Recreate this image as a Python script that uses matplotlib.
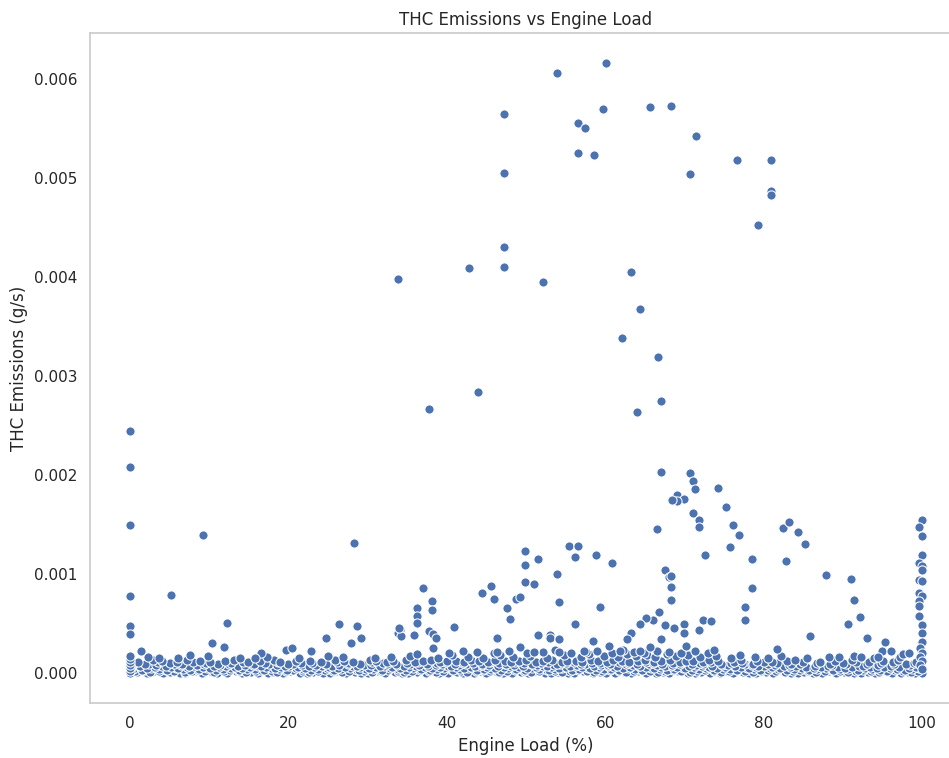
import matplotlib
matplotlib.use("Agg")
import matplotlib.pyplot as plt
import seaborn as sns

# ---------------- data ----------------
# Sparse points above the dense band: (engine load %, THC g/s)
upper_points = [
    (53.9, 0.00606), (60.1, 0.00616), (47.2, 0.00565), (59.7, 0.00570), (56.6, 0.00556),
    (57.4, 0.00551), (65.6, 0.00572), (68.3, 0.00573), (71.5, 0.00543), (56.6, 0.00525),
    (58.6, 0.00523), (47.2, 0.00505), (70.7, 0.00504), (76.6, 0.00518), (80.9, 0.00518),
    (80.9, 0.00487), (80.9, 0.00483), (79.3, 0.00453), (47.2, 0.00430), (42.8, 0.00409),
    (47.2, 0.00410), (33.9, 0.00398), (52.2, 0.00395), (63.3, 0.00405), (64.4, 0.00368),
    (62.1, 0.00338), (66.7, 0.00319), (44.0, 0.00284), (37.8, 0.00267), (67.1, 0.00275),
    (64.0, 0.00263),
]

left_points = [
    (0.0, 0.00244), (0.0, 0.00208), (0.0, 0.00149), (9.2, 0.00139), (0.0, 0.00077),
    (5.2, 0.00078), (0.0, 0.00047), (0.0, 0.00039), (28.3, 0.00131), (12.3, 0.00050),
    (10.4, 0.00030), (11.9, 0.00026), (1.4, 0.00022), (3.7, 0.00015), (7.6, 0.00018),
    (26.4, 0.00049), (28.7, 0.00047), (29.2, 0.00035), (27.9, 0.00030), (24.8, 0.00035),
    (22.9, 0.00022), (19.7, 0.00023), (20.5, 0.00025), (16.6, 0.00020), (15.8, 0.00015),
]

middle_points = [
    (37.0, 0.00086), (36.2, 0.00065), (36.2, 0.00057), (36.2, 0.00050), (38.1, 0.00072),
    (38.1, 0.00063), (34.1, 0.00043), (33.9, 0.00040), (34.2, 0.00037), (34.0, 0.00045),
    (35.8, 0.00038), (37.8, 0.00042), (38.2, 0.00039), (38.6, 0.00035), (38.2, 0.00025),
    (40.9, 0.00046), (36.2, 0.00019), (42.1, 0.00022), (44.4, 0.00080), (45.6, 0.00088),
    (46.0, 0.00074), (47.6, 0.00065), (48.0, 0.00054), (48.7, 0.00074), (49.2, 0.00076),
    (49.9, 0.00123), (49.9, 0.00109), (51.5, 0.00115), (49.9, 0.00092), (51.0, 0.00090),
    (46.4, 0.00035), (46.4, 0.00021), (49.2, 0.00026), (51.5, 0.00038), (53.0, 0.00038),
    (53.0, 0.00035), (54.2, 0.00034), (53.9, 0.00100), (54.2, 0.00071), (55.4, 0.00128),
    (56.6, 0.00128), (56.2, 0.00117), (58.9, 0.00119), (60.9, 0.00111), (59.3, 0.00066),
    (56.2, 0.00049), (58.5, 0.00032), (60.5, 0.00027), (51.0, 0.00021), (54.2, 0.00021),
    (57.3, 0.00022), (67.6, 0.00104), (68.0, 0.00097), (68.3, 0.00098), (68.3, 0.00087),
    (68.3, 0.00073), (66.8, 0.00061), (66.0, 0.00053), (65.2, 0.00055), (64.4, 0.00049),
    (63.2, 0.00040), (62.8, 0.00034), (67.6, 0.00048), (68.7, 0.00045), (67.1, 0.00034),
    (61.9, 0.00022), (64.4, 0.00022), (65.7, 0.00026), (67.1, 0.00203), (66.5, 0.00145),
]

right_points = [
    (70.7, 0.00202), (71.1, 0.00194), (71.4, 0.00186), (74.2, 0.00187), (69.1, 0.00180),
    (69.9, 0.00176), (69.1, 0.00173), (68.4, 0.00175), (71.1, 0.00161), (71.8, 0.00154),
    (71.8, 0.00147), (75.3, 0.00167), (76.1, 0.00149), (76.9, 0.00139), (75.8, 0.00127),
    (72.6, 0.00119), (78.5, 0.00115), (78.5, 0.00085), (77.7, 0.00066), (77.7, 0.00053),
    (82.4, 0.00146), (83.2, 0.00152), (84.4, 0.00142), (85.2, 0.00130), (82.8, 0.00113),
    (87.9, 0.00099), (91.0, 0.00095), (91.4, 0.00073), (92.2, 0.00056), (90.7, 0.00049),
    (93.0, 0.00035), (85.9, 0.00037), (95.3, 0.00031), (69.9, 0.00049), (69.9, 0.00040),
    (71.8, 0.00043), (72.3, 0.00053), (73.4, 0.00052), (70.2, 0.00027), (73.8, 0.00023),
    (81.7, 0.00024), (94.9, 0.00022), (96.1, 0.00022), (94.5, 0.00016), (91.4, 0.00017),
    (92.3, 0.00016), (88.3, 0.00016), (97.6, 0.00019), (98.4, 0.00020),
]

full_load_points = [
    (100.0, 0.00154), (99.6, 0.00147), (100.0, 0.00138), (100.0, 0.00119), (99.6, 0.00111),
    (100.0, 0.00108), (100.0, 0.00104), (99.6, 0.00094), (100.0, 0.00093), (99.6, 0.00080),
    (100.0, 0.00077), (99.6, 0.00072), (99.6, 0.00067), (99.6, 0.00057), (100.0, 0.00048),
    (100.0, 0.00040), (100.0, 0.00031), (99.8, 0.00025), (100.0, 0.00020), (99.7, 0.00016),
    (100.0, 0.00012), (99.8, 0.00008), (100.0, 0.00004),
    (0.0, 0.00002), (0.0, 0.00005), (0.0, 0.00008), (0.0, 0.00011), (0.0, 0.00014), (0.0, 0.00017),
]

# Dense low-emission band
band_row_a = [
    (0.0, 0.0), (0.9, 0.00001), (2.1, 0.0), (3.0, 0.00002), (4.2, 0.0), (5.1, 0.00001),
    (6.3, 0.0), (7.0, 0.0), (8.2, 0.00002), (9.1, 0.0), (10.3, 0.00001), (11.0, 0.0),
    (12.2, 0.0), (13.4, 0.00002), (14.1, 0.0), (15.3, 0.00001), (16.2, 0.0), (17.4, 0.0),
    (18.1, 0.00001), (19.3, 0.0), (20.2, 0.00002), (21.5, 0.0), (22.3, 0.0), (23.1, 0.00001),
    (24.4, 0.0), (25.2, 0.0), (26.0, 0.00002), (27.3, 0.0), (28.4, 0.00001), (29.2, 0.0),
    (30.1, 0.0), (31.3, 0.00002), (32.2, 0.0), (33.5, 0.00001), (34.3, 0.0), (35.1, 0.0),
    (36.2, 0.00001), (37.4, 0.0), (38.3, 0.00002), (39.0, 0.0), (40.2, 0.0), (41.3, 0.00001),
    (42.1, 0.0), (43.4, 0.0), (44.2, 0.00002), (45.0, 0.0), (46.3, 0.00001), (47.1, 0.0),
    (48.2, 0.0), (49.4, 0.00001), (50.3, 0.0), (51.1, 0.00002), (52.4, 0.0), (53.2, 0.0),
    (54.0, 0.00001), (55.3, 0.0), (56.1, 0.0), (57.2, 0.00002), (58.4, 0.0), (59.3, 0.00001),
    (60.1, 0.0), (61.2, 0.0), (62.4, 0.00001), (63.3, 0.0), (64.1, 0.00002), (65.2, 0.0),
    (66.4, 0.0), (67.3, 0.00001), (68.1, 0.0), (69.2, 0.00002), (70.4, 0.0), (71.3, 0.0),
    (72.1, 0.00001), (73.2, 0.0), (74.5, 0.0), (75.3, 0.00002), (76.1, 0.0), (77.4, 0.00001),
    (78.2, 0.0), (79.0, 0.0), (80.3, 0.00001), (81.2, 0.0), (82.4, 0.00002), (83.5, 0.0),
    (84.3, 0.0), (85.1, 0.00001), (86.2, 0.0), (87.4, 0.0), (88.3, 0.00002), (89.2, 0.0),
    (90.1, 0.00001), (91.4, 0.0), (92.3, 0.0), (93.2, 0.00001), (94.1, 0.0), (95.4, 0.00002),
    (96.2, 0.0), (97.3, 0.0), (98.2, 0.00001), (99.1, 0.0), (100.0, 0.0),
]

band_row_f = [
    (0.6, 0.00002), (1.8, 0.00003), (2.5, 0.00001), (3.7, 0.00002), (4.5, 0.00003), (5.6, 0.00002),
    (6.9, 0.00001), (7.8, 0.00002), (8.6, 0.00003), (9.5, 0.00002), (10.6, 0.00001), (11.9, 0.00002),
    (12.6, 0.00003), (13.7, 0.00002), (14.6, 0.00001), (15.9, 0.00002), (16.6, 0.00003), (17.9, 0.00002),
    (18.6, 0.00001), (19.7, 0.00002), (20.6, 0.00003), (21.8, 0.00002), (22.6, 0.00001), (23.7, 0.00002),
    (24.6, 0.00003), (25.6, 0.00002), (26.8, 0.00001), (27.6, 0.00002), (28.7, 0.00003), (29.6, 0.00002),
    (30.6, 0.00001), (31.7, 0.00002), (32.6, 0.00003), (33.8, 0.00002), (34.6, 0.00001), (35.6, 0.00002),
    (36.6, 0.00003), (37.7, 0.00002), (38.6, 0.00001), (39.5, 0.00002), (40.6, 0.00003), (41.8, 0.00002),
    (42.6, 0.00001), (43.7, 0.00002), (44.6, 0.00003), (45.5, 0.00002), (46.6, 0.00001), (47.6, 0.00002),
    (48.6, 0.00003), (49.7, 0.00002), (50.6, 0.00001), (51.6, 0.00002), (52.7, 0.00003), (53.6, 0.00002),
    (54.5, 0.00001), (55.6, 0.00002), (56.6, 0.00003), (57.7, 0.00002), (58.6, 0.00001), (59.6, 0.00002),
    (60.6, 0.00003), (61.7, 0.00002), (62.6, 0.00001), (63.6, 0.00002), (64.6, 0.00003), (65.7, 0.00002),
    (66.7, 0.00001), (67.6, 0.00002), (68.6, 0.00003), (69.6, 0.00002), (70.7, 0.00001), (71.6, 0.00002),
    (72.6, 0.00003), (73.7, 0.00002), (74.6, 0.00001), (75.6, 0.00002), (76.6, 0.00003), (77.7, 0.00002),
    (78.6, 0.00001), (79.7, 0.00002), (80.6, 0.00003), (81.6, 0.00002), (82.7, 0.00001), (83.7, 0.00002),
    (84.6, 0.00003), (85.6, 0.00002), (86.6, 0.00001), (87.7, 0.00002), (88.6, 0.00003), (89.6, 0.00002),
    (90.6, 0.00001), (91.7, 0.00002), (92.6, 0.00003), (93.6, 0.00002), (94.6, 0.00001), (95.6, 0.00002),
    (96.6, 0.00003), (97.6, 0.00002), (98.6, 0.00001), (99.5, 0.00002),
]

band_row_b = [
    (0.4, 0.00004), (1.5, 0.00003), (2.6, 0.00005), (3.6, 0.00004), (4.7, 0.00003), (5.8, 0.00005),
    (6.7, 0.00004), (7.6, 0.00003), (8.7, 0.00004), (9.7, 0.00005), (10.8, 0.00003), (11.7, 0.00004),
    (12.8, 0.00005), (13.8, 0.00003), (14.8, 0.00004), (15.8, 0.00004), (16.9, 0.00003), (17.8, 0.00005),
    (18.8, 0.00004), (19.8, 0.00003), (20.9, 0.00005), (21.9, 0.00004), (22.8, 0.00003), (23.8, 0.00004),
    (24.9, 0.00005), (25.8, 0.00003), (26.7, 0.00004), (27.8, 0.00005), (28.9, 0.00003), (29.8, 0.00004),
    (30.7, 0.00004), (31.8, 0.00003), (32.8, 0.00005), (33.9, 0.00004), (34.8, 0.00003), (35.7, 0.00005),
    (36.8, 0.00004), (37.9, 0.00003), (38.8, 0.00004), (39.7, 0.00005), (40.8, 0.00003), (41.7, 0.00004),
    (42.7, 0.00005), (43.8, 0.00003), (44.7, 0.00004), (45.6, 0.00004), (46.8, 0.00003), (47.7, 0.00005),
    (48.8, 0.00004), (49.9, 0.00003), (50.8, 0.00005), (51.7, 0.00004), (52.9, 0.00003), (53.7, 0.00004),
    (54.6, 0.00005), (55.8, 0.00003), (56.7, 0.00004), (57.8, 0.00005), (58.9, 0.00003), (59.8, 0.00004),
    (60.7, 0.00004), (61.8, 0.00003), (62.9, 0.00005), (63.8, 0.00004), (64.7, 0.00003), (65.8, 0.00005),
    (66.9, 0.00004), (67.8, 0.00003), (68.7, 0.00004), (69.8, 0.00005), (70.9, 0.00003), (71.8, 0.00004),
    (72.7, 0.00005), (73.8, 0.00003), (74.9, 0.00004), (75.8, 0.00004), (76.7, 0.00003), (77.9, 0.00005),
    (78.8, 0.00004), (79.6, 0.00003), (80.8, 0.00005), (81.8, 0.00004), (82.9, 0.00003), (83.9, 0.00004),
    (84.8, 0.00005), (85.7, 0.00003), (86.8, 0.00004), (87.9, 0.00005), (88.8, 0.00003), (89.7, 0.00004),
    (90.7, 0.00004), (91.9, 0.00003), (92.8, 0.00005), (93.7, 0.00004), (94.7, 0.00003), (95.9, 0.00005),
    (96.8, 0.00004), (97.8, 0.00003), (98.7, 0.00004), (99.6, 0.00005),
]

band_row_g = [
    (0.1, 0.00006), (1.1, 0.00007), (2.2, 0.00005), (3.2, 0.00006), (4.1, 0.00007), (5.2, 0.00006),
    (6.1, 0.00005), (7.2, 0.00006), (8.1, 0.00007), (9.2, 0.00006), (10.1, 0.00005), (11.2, 0.00006),
    (12.1, 0.00007), (13.2, 0.00006), (14.2, 0.00005), (15.1, 0.00006), (16.1, 0.00007), (17.2, 0.00006),
    (18.3, 0.00005), (19.1, 0.00006), (20.1, 0.00007), (21.2, 0.00006), (22.1, 0.00005), (23.2, 0.00006),
    (24.2, 0.00007), (25.1, 0.00006), (26.2, 0.00005), (27.1, 0.00006), (28.2, 0.00007), (29.1, 0.00006),
    (30.2, 0.00005), (31.1, 0.00006), (32.1, 0.00007), (33.1, 0.00006), (34.1, 0.00005), (35.2, 0.00006),
    (36.1, 0.00007), (37.2, 0.00006), (38.1, 0.00005), (39.1, 0.00006), (40.1, 0.00007), (41.1, 0.00006),
    (42.2, 0.00005), (43.1, 0.00006), (44.1, 0.00007), (45.1, 0.00006), (46.1, 0.00005), (47.2, 0.00006),
    (48.1, 0.00007), (49.1, 0.00006), (50.1, 0.00005), (51.3, 0.00006), (52.2, 0.00007), (53.1, 0.00006),
    (54.2, 0.00005), (55.1, 0.00006), (56.2, 0.00007), (57.1, 0.00006), (58.1, 0.00005), (59.2, 0.00006),
    (60.3, 0.00007), (61.1, 0.00006), (62.2, 0.00005), (63.1, 0.00006), (64.3, 0.00007), (65.1, 0.00006),
    (66.2, 0.00005), (67.1, 0.00006), (68.3, 0.00007), (69.1, 0.00006), (70.1, 0.00005), (71.2, 0.00006),
    (72.2, 0.00007), (73.1, 0.00006), (74.1, 0.00005), (75.1, 0.00006), (76.3, 0.00007), (77.1, 0.00006),
    (78.1, 0.00005), (79.1, 0.00006), (80.1, 0.00007), (81.1, 0.00006), (82.1, 0.00005), (83.3, 0.00006),
    (84.1, 0.00007), (85.3, 0.00006), (86.4, 0.00005), (87.2, 0.00006), (88.1, 0.00007), (89.4, 0.00006),
    (90.3, 0.00005), (91.1, 0.00006), (92.1, 0.00007), (93.4, 0.00006), (94.3, 0.00005), (95.2, 0.00006),
    (96.1, 0.00007), (97.1, 0.00006), (98.3, 0.00005), (99.2, 0.00006),
]

band_row_c = [
    (0.2, 0.00008), (1.3, 0.00007), (2.4, 0.00009), (3.3, 0.00008), (4.5, 0.00007), (5.5, 0.00009),
    (6.5, 0.00008), (7.4, 0.00007), (8.5, 0.00008), (9.4, 0.00009), (10.6, 0.00007), (11.4, 0.00008),
    (12.5, 0.00009), (13.6, 0.00007), (14.5, 0.00008), (15.5, 0.00008), (16.6, 0.00007), (17.6, 0.00009),
    (18.5, 0.00008), (19.6, 0.00007), (20.6, 0.00009), (21.7, 0.00008), (22.6, 0.00007), (23.5, 0.00008),
    (24.6, 0.00009), (25.5, 0.00007), (26.4, 0.00008), (27.5, 0.00009), (28.6, 0.00007), (29.5, 0.00008),
    (30.4, 0.00008), (31.6, 0.00007), (32.5, 0.00009), (33.7, 0.00008), (34.6, 0.00007), (35.4, 0.00009),
    (36.5, 0.00008), (37.6, 0.00007), (38.6, 0.00008), (39.4, 0.00009), (40.5, 0.00007), (41.5, 0.00008),
    (42.4, 0.00009), (43.6, 0.00007), (44.5, 0.00008), (45.3, 0.00008), (46.5, 0.00007), (47.4, 0.00009),
    (48.5, 0.00008), (49.6, 0.00007), (50.6, 0.00009), (51.4, 0.00008), (52.6, 0.00007), (53.5, 0.00008),
    (54.3, 0.00009), (55.6, 0.00007), (56.4, 0.00008), (57.5, 0.00009), (58.6, 0.00007), (59.5, 0.00008),
    (60.4, 0.00008), (61.5, 0.00007), (62.6, 0.00009), (63.5, 0.00008), (64.4, 0.00007), (65.5, 0.00009),
    (66.6, 0.00008), (67.5, 0.00007), (68.4, 0.00008), (69.5, 0.00009), (70.6, 0.00007), (71.5, 0.00008),
    (72.4, 0.00009), (73.5, 0.00007), (74.7, 0.00008), (75.5, 0.00008), (76.4, 0.00007), (77.6, 0.00009),
    (78.5, 0.00008), (79.3, 0.00007), (80.5, 0.00009), (81.5, 0.00008), (82.6, 0.00007), (83.2, 0.00008),
    (84.6, 0.00009), (86.5, 0.00007), (88.6, 0.00008), (90.4, 0.00009), (92.6, 0.00007), (94.4, 0.00008),
    (96.5, 0.00009), (98.5, 0.00008),
]

band_row_h = [
    (0.5, 0.00010), (1.9, 0.00009), (3.5, 0.00011), (5.0, 0.00010), (6.6, 0.00009), (8.0, 0.00011),
    (9.6, 0.00010), (11.1, 0.00009), (12.7, 0.00010), (14.3, 0.00011), (15.7, 0.00009), (17.0, 0.00010),
    (18.7, 0.00011), (20.0, 0.00009), (21.6, 0.00010), (23.0, 0.00010), (24.7, 0.00009), (26.1, 0.00011),
    (27.7, 0.00010), (29.0, 0.00009), (30.6, 0.00011), (32.0, 0.00010), (33.6, 0.00009), (35.0, 0.00010),
    (36.4, 0.00011), (37.5, 0.00009), (38.7, 0.00010), (39.9, 0.00011), (41.0, 0.00009), (42.0, 0.00010),
    (43.3, 0.00010), (44.4, 0.00009), (45.4, 0.00011), (46.6, 0.00010), (47.5, 0.00009), (48.6, 0.00011),
    (49.8, 0.00010), (50.7, 0.00009), (51.9, 0.00010), (52.8, 0.00011), (53.9, 0.00009), (55.0, 0.00010),
    (56.0, 0.00011), (57.0, 0.00009), (58.3, 0.00010), (59.4, 0.00010), (60.6, 0.00009), (61.8, 0.00011),
    (62.9, 0.00010), (64.0, 0.00009), (65.1, 0.00011), (66.0, 0.00010), (67.2, 0.00009), (68.5, 0.00010),
    (69.7, 0.00011), (70.9, 0.00009), (72.0, 0.00010), (73.3, 0.00011), (74.6, 0.00009), (75.9, 0.00010),
    (77.3, 0.00010), (78.7, 0.00009), (80.0, 0.00011), (81.7, 0.00010), (83.4, 0.00009), (85.0, 0.00011),
    (86.7, 0.00010), (88.4, 0.00009), (90.0, 0.00010), (91.7, 0.00011), (93.0, 0.00009), (94.8, 0.00010),
    (96.4, 0.00011), (98.0, 0.00009), (99.0, 0.00010),
]

band_row_d = [
    (0.0, 0.00012), (1.0, 0.00011), (2.9, 0.00013), (4.0, 0.00012), (5.9, 0.00011), (7.2, 0.00013),
    (8.9, 0.00012), (10.1, 0.00011), (12.0, 0.00012), (13.1, 0.00013), (14.9, 0.00011), (16.4, 0.00012),
    (18.2, 0.00013), (19.0, 0.00011), (21.0, 0.00012), (22.7, 0.00012), (24.1, 0.00011), (25.9, 0.00013),
    (27.0, 0.00012), (28.1, 0.00011), (30.3, 0.00013), (31.0, 0.00012), (32.4, 0.00011), (33.2, 0.00012),
    (34.9, 0.00013), (36.0, 0.00011), (37.0, 0.00012), (38.0, 0.00013), (39.2, 0.00011), (40.0, 0.00012),
    (41.1, 0.00012), (42.2, 0.00011), (43.0, 0.00013), (44.1, 0.00012), (45.2, 0.00011), (46.1, 0.00013),
    (47.3, 0.00012), (48.1, 0.00011), (49.1, 0.00012), (50.0, 0.00013), (51.2, 0.00011), (52.1, 0.00012),
    (53.3, 0.00013), (54.5, 0.00011), (55.2, 0.00012), (56.3, 0.00012), (57.1, 0.00011), (58.2, 0.00013),
    (59.1, 0.00012), (60.2, 0.00011), (61.0, 0.00013), (62.1, 0.00012), (63.0, 0.00011), (64.2, 0.00012),
    (65.0, 0.00013), (66.1, 0.00011), (67.0, 0.00012), (68.2, 0.00013), (69.4, 0.00011), (70.2, 0.00012),
    (71.1, 0.00012), (72.3, 0.00011), (73.1, 0.00013), (74.3, 0.00012), (76.2, 0.00011), (77.2, 0.00013),
    (79.2, 0.00012), (81.0, 0.00011), (83.0, 0.00012), (84.0, 0.00013), (87.1, 0.00011), (89.0, 0.00012),
    (91.2, 0.00013), (93.3, 0.00011), (95.1, 0.00012), (97.0, 0.00013), (99.3, 0.00011),
]

band_row_e = [
    (0.0, 0.00015), (2.3, 0.00016), (6.0, 0.00015), (9.8, 0.00017), (13.9, 0.00015), (17.3, 0.00016),
    (21.3, 0.00015), (25.0, 0.00017), (26.9, 0.00016), (30.9, 0.00015), (32.9, 0.00016), (35.3, 0.00017),
    (38.9, 0.00015), (40.6, 0.00018), (42.7, 0.00016), (44.6, 0.00015), (46.7, 0.00018), (48.4, 0.00016),
    (50.5, 0.00017), (52.7, 0.00015), (54.8, 0.00018), (56.9, 0.00016), (58.0, 0.00019), (59.9, 0.00017),
    (61.6, 0.00016), (62.7, 0.00019), (63.9, 0.00017), (65.3, 0.00018), (66.3, 0.00016), (67.8, 0.00019),
    (69.0, 0.00017), (70.5, 0.00018), (72.0, 0.00016), (74.0, 0.00017), (75.9, 0.00015), (77.0, 0.00018),
    (78.9, 0.00016), (80.6, 0.00015), (82.2, 0.00017), (85.5, 0.00015), (89.5, 0.00016), (93.9, 0.00015),
    (97.2, 0.00016),
]

band_row_i = [
    (40.3, 0.00020), (43.8, 0.00021), (45.9, 0.00020), (47.9, 0.00022), (50.1, 0.00020), (52.2, 0.00021),
    (53.6, 0.00023), (55.7, 0.00020), (57.6, 0.00021), (59.0, 0.00022), (60.9, 0.00020), (62.3, 0.00023),
    (63.6, 0.00021), (64.9, 0.00020), (66.6, 0.00022), (68.0, 0.00021), (69.6, 0.00020), (71.4, 0.00022),
    (73.0, 0.00020),
]

all_points = (band_row_a + band_row_f + band_row_b + band_row_g + band_row_c + band_row_h
              + band_row_d + band_row_e + band_row_i
              + full_load_points + left_points + middle_points + right_points + upper_points)
engine_load = [p[0] for p in all_points]
thc_emissions = [p[1] for p in all_points]

x_ticks = [0, 20, 40, 60, 80, 100]
y_ticks = [0.000, 0.001, 0.002, 0.003, 0.004, 0.005, 0.006]

# ---------------- plot ----------------
sns.set_theme(style="whitegrid")
plt.rcParams['font.family'] = ['DejaVu Sans']

fig = plt.figure(figsize=(9.49, 7.58), dpi=100)
ax = fig.add_axes([90.4 / 949, 55 / 758, 871.2 / 949, 670 / 758])

sns.scatterplot(x=engine_load, y=thc_emissions, ax=ax, color="#4c72b0",
                edgecolor="white", linewidth=0.75, s=44)

ax.grid(False)
ax.set_xlim(-5, 105)
ax.set_ylim(-0.000308, 0.006468)
ax.set_xticks(x_ticks)
ax.set_yticks(y_ticks)
ax.set_yticklabels([f"{v:.3f}" for v in y_ticks])
ax.set_title("THC Emissions vs Engine Load", fontsize=12, color="#262626")
ax.set_xlabel("Engine Load (%)", fontsize=12, color="#262626")
ax.set_ylabel("THC Emissions (g/s)", fontsize=12, color="#262626")
ax.tick_params(labelsize=11, colors="#262626")
for sp in ax.spines.values():
    sp.set_color("#cccccc")

fig.savefig("out.png", dpi=100)
